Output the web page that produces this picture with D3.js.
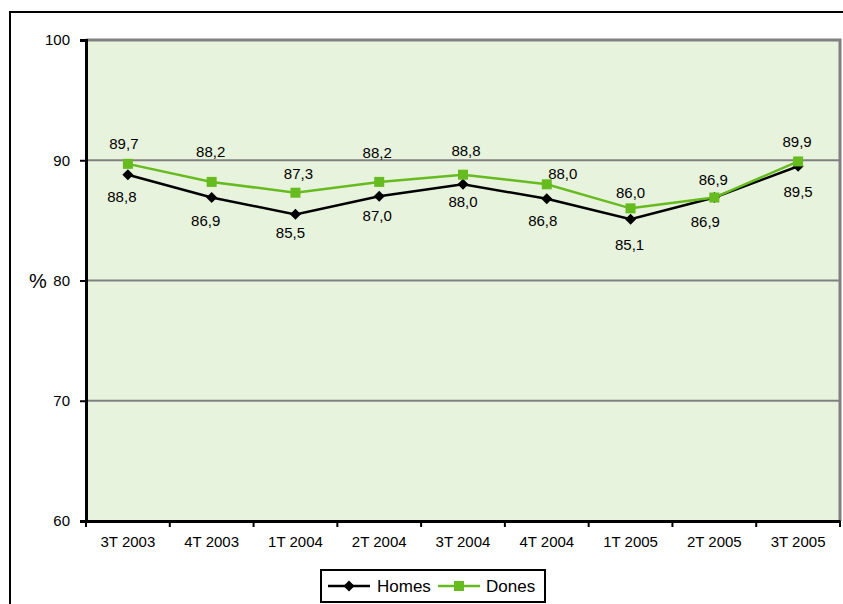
<!DOCTYPE html>
<html><head><meta charset="utf-8">
<script src="https://cdn.jsdelivr.net/npm/d3@7"></script>
<style>body{margin:0;background:#fff}svg{display:block;font-family:Arial,"Liberation Sans",sans-serif}</style>
</head><body>
<svg id="c" width="843" height="604"></svg>
<script>
const categories = ["3T 2003","4T 2003","1T 2004","2T 2004","3T 2004","4T 2004","1T 2005","2T 2005","3T 2005"];
const homes = [88.8, 86.9, 85.5, 87.0, 88.0, 86.8, 85.1, 86.9, 89.5];
const dones = [89.7, 88.2, 87.3, 88.2, 88.8, 88.0, 86.0, 86.9, 89.9];
const yTicks = [60, 70, 80, 90, 100];
const seriesNames = ["Homes", "Dones"];

// label nudges (style only)
const homesNudge = [[-6,22],[-6,23],[-5,18],[-2,19],[0,17.5],[-4,22],[-1,26],[-9,24.5],[0,25]];
const donesNudge = [[-4,-20],[-1,-30],[3,-19],[-2,-29],[3,-24],[16,-11],[0,-16],[-1,-18],[-1,-20]];

const svg = d3.select("#c");
const L = 86, R = 840, T = 40, B = 521;
const x = d3.scaleBand().domain(categories).range([L, R]);
const y = d3.scaleLinear().domain([60, 100]).range([B, T]);
const fmt = v => d3.format(".1f")(v).replace(".", ",");

// outer border
svg.append("rect").attr("x", 10).attr("y", 12).attr("width", 840).attr("height", 600)
  .attr("fill", "none").attr("stroke", "#000").attr("stroke-width", 2);

// plot area
svg.append("rect").attr("x", L).attr("y", T).attr("width", R - L).attr("height", B - T)
  .attr("fill", "#e7f3dd");
// top & right border gray
svg.append("path").attr("d", `M${L},${T}H${R}V${B}`).attr("fill", "none")
  .attr("stroke", "#808080").attr("stroke-width", 3);

// gridlines
svg.append("g").selectAll("line").data(yTicks.filter(t => t > 60 && t < 100)).join("line")
  .attr("x1", L).attr("x2", R).attr("y1", d => y(d)).attr("y2", d => y(d))
  .attr("stroke", "#808080").attr("stroke-width", 2);

// y axis
const ya = svg.append("g").attr("transform", `translate(${L},0)`)
  .call(d3.axisLeft(y).tickValues(yTicks).tickSize(6).tickPadding(10));
ya.select(".domain").attr("stroke", "#000").attr("stroke-width", 3);
ya.selectAll(".tick line").attr("stroke", "#000").attr("stroke-width", 2);
ya.selectAll(".tick text").attr("font-size", 15).attr("fill", "#000").attr("font-family", "Arial, 'Liberation Sans', sans-serif");

// x axis with ticks between categories
const xa = svg.append("g").attr("transform", `translate(0,${B})`)
  .call(d3.axisBottom(x).tickSize(0).tickPadding(15));
xa.select(".domain").attr("stroke", "#000").attr("stroke-width", 3);
xa.selectAll(".tick text").attr("font-size", 15).attr("fill", "#000").attr("font-family", "Arial, 'Liberation Sans', sans-serif");
svg.append("g").selectAll("line").data(d3.range(categories.length + 1)).join("line")
  .attr("x1", i => L + i * x.step()).attr("x2", i => L + i * x.step())
  .attr("y1", B).attr("y2", B + 6).attr("stroke", "#000").attr("stroke-width", 2);

// % label
svg.append("text").attr("x", 38).attr("y", y(80)).attr("dy", "0.35em").attr("text-anchor", "middle")
  .attr("font-size", 20).text("%");

const cx = i => x(categories[i]) + x.bandwidth() / 2;
const line = d3.line().x((d, i) => cx(i)).y(d => y(d));
const green = "#66bb1e";

function diamond(g, px, py, s) {
  g.append("path").attr("d", `M${px},${py - s}L${px + s},${py}L${px},${py + s}L${px - s},${py}Z`).attr("fill", "#000");
}

// Homes
svg.append("path").datum(homes).attr("d", line).attr("fill", "none").attr("stroke", "#000").attr("stroke-width", 2.5);
const hg = svg.append("g");
homes.forEach((v, i) => diamond(hg, cx(i), y(v), 5.5));

// Dones
svg.append("path").datum(dones).attr("d", line).attr("fill", "none").attr("stroke", green).attr("stroke-width", 2.5);
svg.append("g").selectAll("rect").data(dones).join("rect")
  .attr("x", (d, i) => cx(i) - 5).attr("y", d => y(d) - 5).attr("width", 10).attr("height", 10).attr("fill", green);

// labels
svg.append("g").selectAll("text").data(homes).join("text")
  .attr("x", (d, i) => cx(i) + homesNudge[i][0]).attr("y", (d, i) => y(d) + homesNudge[i][1])
  .attr("dy", "0.35em").attr("text-anchor", "middle").attr("font-size", 15).text(fmt);
svg.append("g").selectAll("text").data(dones).join("text")
  .attr("x", (d, i) => cx(i) + donesNudge[i][0]).attr("y", (d, i) => y(d) + donesNudge[i][1])
  .attr("dy", "0.35em").attr("text-anchor", "middle").attr("font-size", 15).text(fmt);

// legend
const lg = svg.append("g");
lg.append("rect").attr("x", 321).attr("y", 570).attr("width", 224).attr("height", 32)
  .attr("fill", "#fff").attr("stroke", "#000").attr("stroke-width", 2);
const ly = 586;
lg.append("line").attr("x1", 328).attr("x2", 370).attr("y1", ly).attr("y2", ly).attr("stroke", "#000").attr("stroke-width", 2.5);
diamond(lg, 349, ly, 5.5);
lg.append("text").attr("x", 377).attr("y", ly).attr("dy", "0.35em").attr("font-size", 17).text(seriesNames[0]);
lg.append("line").attr("x1", 438).attr("x2", 480).attr("y1", ly).attr("y2", ly).attr("stroke", green).attr("stroke-width", 2.5);
lg.append("rect").attr("x", 454).attr("y", ly - 5).attr("width", 10).attr("height", 10).attr("fill", green);
lg.append("text").attr("x", 486).attr("y", ly).attr("dy", "0.35em").attr("font-size", 17).text(seriesNames[1]);
</script>
</body></html>
